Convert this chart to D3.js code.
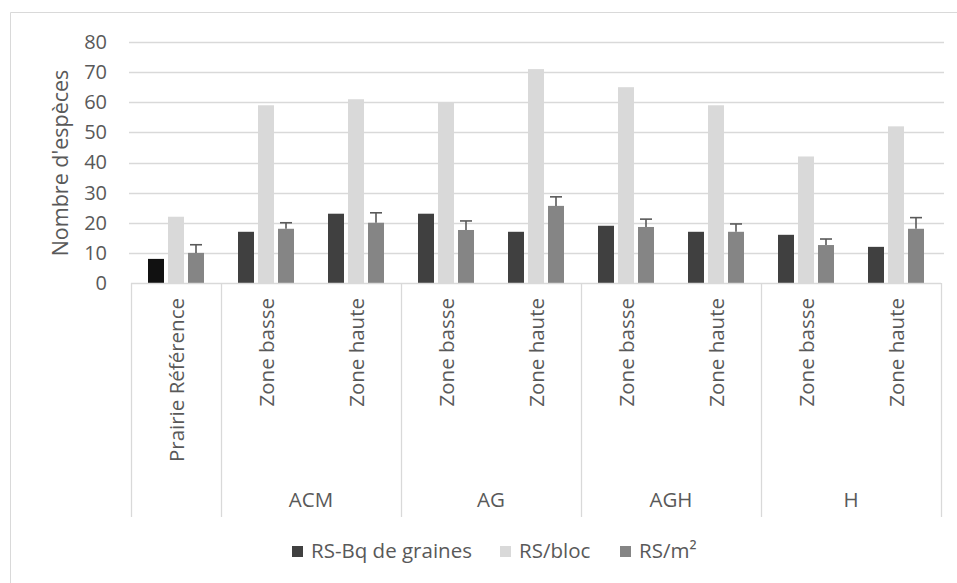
<!DOCTYPE html>
<html><head><meta charset="utf-8">
<script src="https://cdn.jsdelivr.net/npm/d3@7"></script>
<style>body{margin:0;background:#fff;} svg{display:block;font-family:"Open Sans",sans-serif;}</style>
</head><body>
<svg id="c" width="957" height="583"></svg>
<script>
const groups = ["", "ACM", "AG", "AGH", "H"];
const subCats = [["Prairie Référence"], ["Zone basse","Zone haute"], ["Zone basse","Zone haute"], ["Zone basse","Zone haute"], ["Zone basse","Zone haute"]];
const seriesNames = ["RS-Bq de graines", "RS/bloc", "RS/m²"];
const bqGraines = [8, 17, 23, 23, 17, 19, 17, 16, 12];
const rsBloc = [22, 59, 61, 60, 71, 65, 59, 42, 52];
const rsM2 = [10, 18, 20, 17.6, 25.6, 18.6, 17, 12.6, 18];
const rsM2Err = [2.7, 2, 3.3, 3, 3, 2.6, 2.6, 2, 3.7];
const yTicks = [0,10,20,30,40,50,60,70,80];

const svg = d3.select("#c");
const txt = "#595959";
const colors = ["#404040", "#d9d9d9", "#858585"];

// frame
svg.append("path").attr("d","M10.5,583 V12.5 H957").attr("fill","none").attr("stroke","#d9d9d9");

const slots = [];
subCats.forEach((s,gi)=>s.forEach((n,si)=>slots.push({g:gi, name:n, id:gi+"-"+si})));
const x = d3.scaleBand().domain(slots.map(d=>d.id)).range([131, 941]);
const xs = d3.scaleBand().domain(seriesNames).range([0,56]).paddingInner(0.2);
const off = (x.bandwidth()-56)/2;
const y = d3.scaleLinear().domain([0,80]).range([283,42]);

// gridlines
svg.append("g").selectAll("line").data(yTicks.filter(t=>t>0)).join("line")
  .attr("x1",129).attr("x2",944).attr("y1",d=>Math.round(y(d))+0.5).attr("y2",d=>Math.round(y(d))+0.5)
  .attr("stroke","#d9d9d9").attr("stroke-width",1.3);

// y axis
const ya = svg.append("g").attr("transform","translate(129,0)")
  .call(d3.axisLeft(y).tickValues(yTicks).tickSize(0).tickPadding(22));
ya.select(".domain").remove();
ya.selectAll("text").attr("fill",txt).style("font-size","20px").style("font-family","Open Sans");

svg.append("text").attr("transform","translate(68,163) rotate(-90)")
  .attr("text-anchor","middle").attr("fill",txt).style("font-size","21.5px").text("Nombre d'espèces");

// bars
const seriesData = [bqGraines, rsBloc, rsM2];
seriesData.forEach((vals,si)=>{
  svg.append("g").selectAll("rect").data(vals).join("rect")
    .attr("x",(d,i)=>x(slots[i].id)+off+xs(seriesNames[si]))
    .attr("width",xs.bandwidth())
    .attr("y",d=>y(d)).attr("height",d=>y(0)-y(d))
    .attr("fill",(d,i)=> (si===0 && i===0) ? "#111111" : colors[si]);
});
// error bars
const eb = svg.append("g").attr("stroke","#595959").attr("stroke-width",1.6);
rsM2.forEach((v,i)=>{
  const cx = x(slots[i].id)+off+xs(seriesNames[2])+xs.bandwidth()/2;
  eb.append("line").attr("x1",cx).attr("x2",cx).attr("y1",y(v)).attr("y2",y(v+rsM2Err[i]));
  eb.append("line").attr("x1",cx-6).attr("x2",cx+6).attr("y1",y(v+rsM2Err[i])).attr("y2",y(v+rsM2Err[i]));
});

// category axis
svg.append("line").attr("x1",131).attr("x2",941).attr("y1",283.5).attr("y2",283.5).attr("stroke","#d9d9d9").attr("stroke-width",1.3);
const sepX = [131];
let acc = 0;
subCats.forEach(s=>{acc+=s.length; sepX.push(x(slots[acc-1].id)+x.bandwidth());});
svg.append("g").selectAll("line").data(sepX).join("line")
  .attr("x1",d=>Math.round(d)+0.5).attr("x2",d=>Math.round(d)+0.5).attr("y1",283).attr("y2",517)
  .attr("stroke","#d9d9d9").attr("stroke-width",1.3);

svg.append("g").selectAll("text").data(slots).join("text")
  .attr("transform",d=>`translate(${x(d.id)+x.bandwidth()/2+8},298) rotate(-90)`)
  .attr("text-anchor","end").attr("fill",txt).style("font-size","20.5px").text(d=>d.name);

let startI = 0;
groups.forEach((g,gi)=>{
  const n = subCats[gi].length;
  const x0 = x(slots[startI].id), x1 = x(slots[startI+n-1].id)+x.bandwidth();
  startI += n;
  if(!g) return;
  svg.append("text").attr("x",(x0+x1)/2).attr("y",507).attr("text-anchor","middle")
    .attr("fill",txt).style("font-size","20.5px").text(g);
});

// legend
const legX = [292, 500, 620];
const lg = svg.append("g");
seriesNames.forEach((s,i)=>{
  lg.append("rect").attr("x",legX[i]).attr("y",546).attr("width",11).attr("height",11).attr("fill",colors[i]);
  lg.append("text").attr("x",legX[i]+19).attr("y",558).attr("fill",txt).style("font-size","20.5px").text(s);
});
</script>
</body></html>
